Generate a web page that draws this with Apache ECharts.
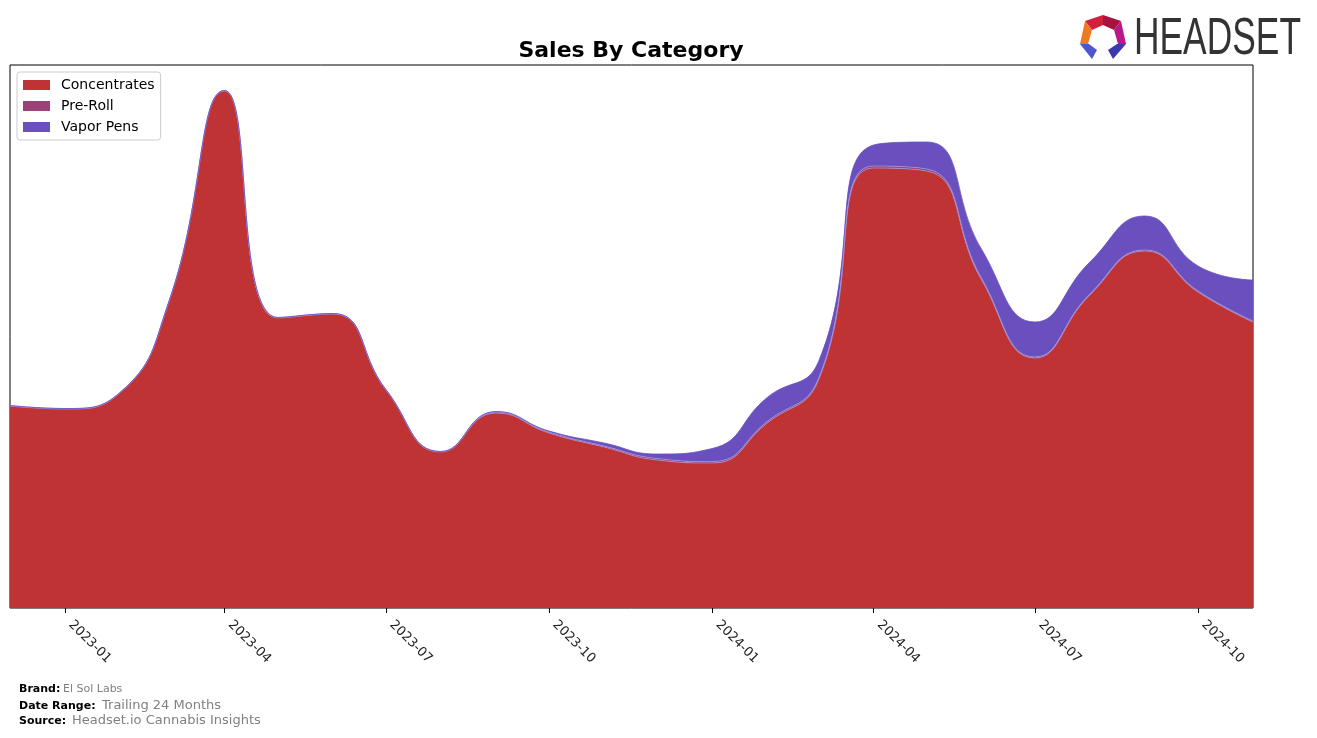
<!DOCTYPE html>
<html>
<head>
<meta charset="utf-8">
<script src="https://cdn.jsdelivr.net/npm/echarts@6/dist/echarts.min.js"></script>
<style>
html,body{margin:0;padding:0;background:#fff;}
#chart{width:1317px;height:738px;}
</style>
</head>
<body>
<div id="chart"></div>
<script>
// ---- data (monthly) ----
const months = ['2022-12-01','2023-01-01','2023-02-01','2023-03-01','2023-04-01','2023-05-01','2023-06-01','2023-07-01','2023-08-01','2023-09-01','2023-10-01','2023-11-01','2023-12-01','2024-01-01','2024-02-01','2024-03-01','2024-04-01','2024-05-01','2024-06-01','2024-07-01','2024-08-01','2024-09-01','2024-10-01','2024-11-01'];
const concentrates = [202,199,215,308,517,290,294,218,156,195,175,161,148,145,185,228,440,437,328,250,313,357,316,286];
const preRoll      = [0.5,0.5,0.5,0.5,0.5,0.5,0.5,0.5,0.5,1,1,1,1.5,1.5,1.5,1.5,2,2,1.5,1,1,1,1,1];
const vaporPens    = [0,0,0,0,0,0,0,0,0,0.5,1,3,4.5,13,24,17,21,27,29,35,32,34,25,41];
const seriesNames = ['Concentrates','Pre-Roll','Vapor Pens'];
const colors = ['#C03335','#9B4178','#6A4FBF'];

const chart = echarts.init(document.getElementById('chart'), null, {renderer:'canvas'});
const FONT = 'DejaVu Sans';
const DAY = 86400000;

function mk(name, vals, color, edge) {
  return {
    name: name, type: 'line', stack: 'total', smooth: 0.5, symbol: 'none',
    data: months.map((m, i) => [m, vals[i]]),
    lineStyle: {width: 0.8, color: edge},
    itemStyle: {color: color},
    areaStyle: {color: color, opacity: 1},
    emphasis: {disabled: true}
  };
}

chart.setOption({
  animation: false,
  textStyle: {fontFamily: FONT},
  title: {
    text: 'Sales By Category', left: 626, top: 35, textAlign: 'center',
    textStyle: {fontFamily: FONT, fontSize: 22, fontWeight: 'bold', color: '#000'}
  },
  legend: {
    orient: 'vertical', left: 17, top: 72, padding: [6, 6, 6, 6],
    itemWidth: 27, itemHeight: 10, itemGap: 7, icon: 'rect',
    borderColor: '#cccccc', borderWidth: 1, borderRadius: 3,
    backgroundColor: 'rgba(255,255,255,0.8)',
    textStyle: {fontFamily: FONT, fontSize: 14, color: '#000', padding: [0, 0, 0, 6]},
    data: seriesNames
  },
  grid: {left: 10, right: 64, top: 65, bottom: 130, show: true, borderColor: '#000', borderWidth: 1, backgroundColor: 'transparent', containLabel: false},
  xAxis: {
    type: 'time', min: '2022-12-01', max: '2024-11-01', splitNumber: 7,
    minInterval: 92 * DAY, maxInterval: 92 * DAY,
    axisLine: {show: false},
    axisTick: {show: true, length: 5, lineStyle: {color: '#000', width: 1}},
    minorTick: {show: false},
    splitLine: {show: false},
    axisLabel: {
      rotate: -45, fontFamily: FONT, fontSize: 13, color: '#222', margin: 9,
      padding: [0, 0, 0, 8],
      showMinLabel: false, showMaxLabel: false,
      formatter: function (v) { return echarts.time.format(v, '{yyyy}-{MM}', false); }
    }
  },
  yAxis: {type: 'value', min: 0, max: 543, show: false, splitLine: {show: false}},
  series: [
    mk(seriesNames[0], concentrates, colors[0], '#a090d8'),
    mk(seriesNames[1], preRoll, colors[1], '#a090d8'),
    mk(seriesNames[2], vaporPens, colors[2], colors[2])
  ],
  graphic: [
    // logo
    {type: 'polygon', shape: {points: [[1085,21],[1103,15],[1103,25],[1092,30]]}, style: {fill: '#D4203A'}},
    {type: 'polygon', shape: {points: [[1103,15],[1121,21],[1114,30],[1103,25]]}, style: {fill: '#A8123E'}},
    {type: 'polygon', shape: {points: [[1121,21],[1126,44],[1118,44],[1114,30]]}, style: {fill: '#B8198A'}},
    {type: 'polygon', shape: {points: [[1085,21],[1092,30],[1088,44],[1080,44]]}, style: {fill: '#F07A22'}},
    {type: 'polygon', shape: {points: [[1080,44],[1089,44],[1097,50],[1092,59]]}, style: {fill: '#4F55CC'}},
    {type: 'polygon', shape: {points: [[1126,44],[1117,44],[1108,50],[1113,59]]}, style: {fill: '#3A3AAE'}},
    {type: 'text', x: 1134, y: 14, scaleX: 0.68, style: {text: 'HEADSET', fontFamily: 'Liberation Sans', fontSize: 52, fill: '#333333', textVerticalAlign: 'top'}},
    // footer
    {type: 'text', x: 19, y: 684, style: {text: 'Brand:', fontFamily: FONT, fontSize: 11, fontWeight: 'bold', fill: '#000'}},
    {type: 'text', x: 63, y: 684, style: {text: 'El Sol Labs', fontFamily: FONT, fontSize: 11, fill: '#808080'}},
    {type: 'text', x: 19, y: 701, style: {text: 'Date Range:', fontFamily: FONT, fontSize: 11, fontWeight: 'bold', fill: '#000'}},
    {type: 'text', x: 102, y: 699, style: {text: 'Trailing 24 Months', fontFamily: FONT, fontSize: 13, fill: '#808080'}},
    {type: 'text', x: 19, y: 716, style: {text: 'Source:', fontFamily: FONT, fontSize: 11, fontWeight: 'bold', fill: '#000'}},
    {type: 'text', x: 72, y: 714, style: {text: 'Headset.io Cannabis Insights', fontFamily: FONT, fontSize: 13, fill: '#808080'}}
  ]
});
</script>
</body>
</html>
